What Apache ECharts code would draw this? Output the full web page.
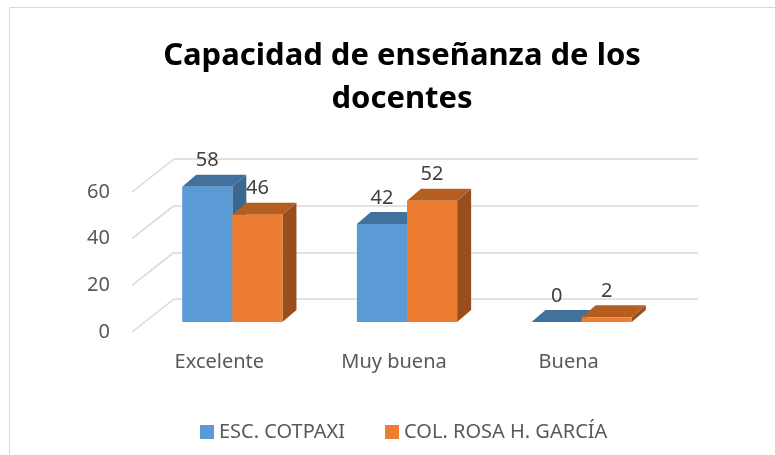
<!DOCTYPE html>
<html>
<head>
<meta charset="utf-8">
<script src="https://cdn.jsdelivr.net/npm/echarts@6/dist/echarts.min.js"></script>
<style>
  html, body { margin: 0; padding: 0; background: #fff; }
  #chart { width: 775px; height: 455px; }
</style>
</head>
<body>
<div id="chart"></div>
<script>
var categories = ['Excelente', 'Muy buena', 'Buena']
var seriesNames = ['ESC. COTPAXI', 'COL. ROSA H. GARCÍA']
var cotpaxi = [58, 42, 0]
var rosaGarcia = [46, 52, 2]
var yTicks = [0, 20, 40, 60]

var FONT = 'Noto Sans, sans-serif'
// front faces (bright), tops, sides
var faces = [
  { front: '#5b9bd5', top: '#41719c', side: '#3a6890' },
  { front: '#ed7d31', top: '#b65d22', side: '#9a4e1c' }
]

function renderBar (params, api) {
  var i = api.value(0)
  var v = api.value(1)
  var base = api.coord([i, 0])
  var top = api.coord([i, v])
  var band = api.size([1, 0])[0]
  var w = band * 0.287
  var dx = 14
  var dy = -12
  var x0 = base[0] - 29 + (params.seriesIndex === 0 ? -w : 0)
  var yb = base[1] + 23
  var yt = top[1] + 23
  var c = faces[params.seriesIndex]
  return {
    type: 'group',
    children: [
      {
        type: 'polygon',
        shape: { points: [[x0 + w, yt], [x0 + w + dx, yt + dy], [x0 + w + dx, yb + dy], [x0 + w, yb]] },
        style: { fill: c.side }
      },
      {
        type: 'polygon',
        shape: { points: [[x0, yt], [x0 + w, yt], [x0 + w + dx, yt + dy], [x0 + dx, yt + dy]] },
        style: { fill: c.top }
      },
      {
        type: 'rect',
        shape: { x: x0, y: yt, width: w, height: yb - yt },
        style: { fill: c.front }
      },
      {
        type: 'text',
        x: x0 + w / 2,
        y: yt + dy - 14,
        style: {
          text: String(v),
          fill: '#404040',
          fontSize: 20,
          fontFamily: FONT,
          align: 'center',
          verticalAlign: 'middle'
        }
      }
    ]
  }
}

var chart = echarts.init(document.getElementById('chart'))
chart.setOption({
  backgroundColor: '#fff',
  animation: false,
  graphic: [{
    type: 'rect',
    shape: { x: 9.5, y: 7.5, width: 800, height: 500 },
    style: { fill: 'none', stroke: '#d9d9d9', lineWidth: 1 }
  }],
  title: {
    text: 'Capacidad de enseñanza de los\ndocentes',
    left: 397,
    top: 30,
    textAlign: 'center',
    textStyle: {
      fontFamily: FONT,
      fontSize: 31,
      fontWeight: 'bold',
      color: '#000',
      lineHeight: 43
    }
  },
  legend: {
    data: seriesNames,
    left: 195,
    top: 417,
    itemWidth: 14,
    itemHeight: 14,
    itemGap: 40,
    icon: 'rect',
    textStyle: { fontFamily: FONT, fontSize: 20, color: '#595959' }
  },
  grid: [
    { left: 174, right: 77, top: 159, bottom: 156 },
    { left: 132, right: 119, top: 192, bottom: 123 }
  ],
  xAxis: [
    {
      type: 'category',
      gridIndex: 0,
      data: categories,
      axisLine: { show: false },
      axisTick: { show: false },
      axisLabel: { show: false }
    },
    {
      type: 'category',
      gridIndex: 1,
      data: categories,
      axisLine: { show: false },
      axisTick: { show: false },
      axisLabel: { margin: 20, fontFamily: FONT, fontSize: 20, color: '#595959' }
    }
  ],
  yAxis: [
    {
      type: 'value',
      gridIndex: 0,
      min: 0,
      max: 60,
      interval: 20,
      axisLine: { show: false },
      axisTick: { show: false },
      axisLabel: { show: false },
      splitLine: { lineStyle: { color: '#d9d9d9', width: 1.5 } }
    },
    {
      type: 'value',
      gridIndex: 1,
      min: 0,
      max: 60,
      interval: 20,
      axisLine: { show: false },
      axisTick: { show: false },
      splitLine: { show: false },
      axisLabel: { margin: 22, fontFamily: FONT, fontSize: 20, color: '#595959' }
    }
  ],
  series: [
    {
      name: seriesNames[0],
      type: 'custom',
      xAxisIndex: 0,
      yAxisIndex: 0,
      itemStyle: { color: faces[0].front },
      renderItem: renderBar,
      data: cotpaxi.map(function (v, i) { return [i, v] }),
      z: 3
    },
    {
      name: seriesNames[1],
      type: 'custom',
      xAxisIndex: 0,
      yAxisIndex: 0,
      itemStyle: { color: faces[1].front },
      renderItem: renderBar,
      data: rosaGarcia.map(function (v, i) { return [i, v] }),
      z: 4
    },
    {
      // left side wall lines
      type: 'custom',
      xAxisIndex: 0,
      yAxisIndex: 0,
      silent: true,
      renderItem: function (params, api) {
        var p = api.coord([0, api.value(1)])
        var x = params.coordSys.x
        return {
          type: 'line',
          shape: { x1: x, y1: p[1], x2: x - 42, y2: p[1] + 33 },
          style: { stroke: '#d9d9d9', lineWidth: 1.5 }
        }
      },
      data: yTicks.map(function (v) { return [0, v] }),
      z: 1
    }
  ]
})
</script>
</body>
</html>
